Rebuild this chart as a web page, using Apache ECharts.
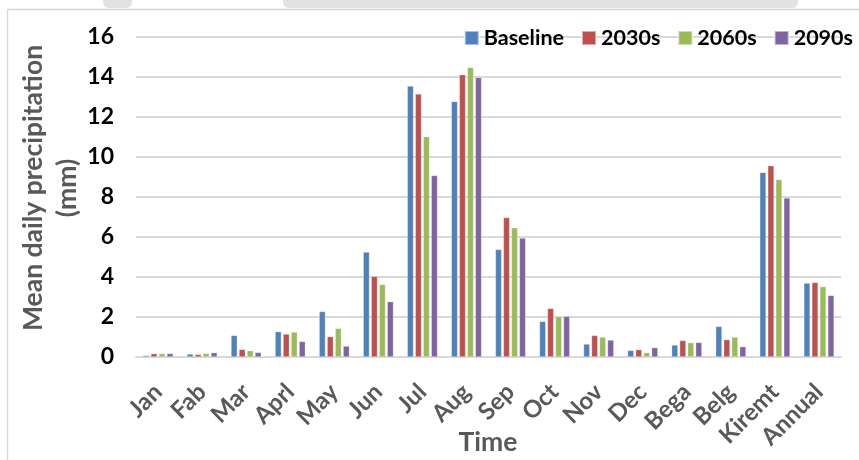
<!DOCTYPE html>
<html>
<head>
<meta charset="utf-8">
<script src="https://cdn.jsdelivr.net/npm/echarts@6/dist/echarts.min.js"></script>
<style>
html,body{margin:0;padding:0;background:#fff;}
#chart{width:859px;height:460px;}
</style>
</head>
<body>
<div id="chart"></div>
<script>
const categories = ['Jan','Fab','Mar','Aprl','May','Jun','Jul','Aug','Sep','Oct','Nov','Dec','Bega','Belg','Kiremt','Annual'];
const baseline = [0.08,0.15,1.08,1.27,2.28,5.25,13.55,12.78,5.38,1.78,0.65,0.33,0.60,1.53,9.23,3.70];
const s2030 = [0.17,0.13,0.38,1.15,1.02,4.03,13.15,14.12,6.98,2.43,1.08,0.37,0.83,0.87,9.57,3.73];
const s2060 = [0.17,0.18,0.32,1.25,1.43,3.63,11.02,14.48,6.47,2.02,1.00,0.22,0.72,1.00,8.88,3.52];
const s2090 = [0.18,0.22,0.23,0.78,0.55,2.77,9.08,13.98,5.95,2.03,0.85,0.47,0.73,0.52,7.95,3.08];
const yTicks = [0,2,4,6,8,10,12,14,16];

const FONT = 'Lato';
const chart = echarts.init(document.getElementById('chart'), null, {renderer:'canvas'});

function barSeries(name, data, color){
  return {
    name, type:'bar', data,
    barWidth: 6.3, barGap: '27%',
    itemStyle:{color, borderColor:'rgba(255,255,255,0.5)', borderWidth:0.6},
    emphasis:{disabled:true}
  };
}

chart.setOption({
  animation:false,
  backgroundColor:'#ffffff',
  grid:{left:136, right:18, top:37, bottom:103, containLabel:false},
  legend:{
    right:1, top:22, itemWidth:14, itemHeight:14, itemGap:17, itemTextGap:5, icon:'rect',
    textStyle:{fontFamily:FONT, fontWeight:'bold', fontSize:21.5, color:'#000'},
    data:['Baseline','2030s','2060s','2090s']
  },
  xAxis:{
    type:'category', data:categories,
    axisLine:{show:true, lineStyle:{color:'#d9d9d9', width:2}},
    axisTick:{show:false},
    axisLabel:{rotate:45, margin:31, interval:0, fontFamily:FONT, fontWeight:'bold', fontSize:24, color:'#595959'}
  },
  yAxis:{
    type:'value', min:yTicks[0], max:yTicks[yTicks.length-1], interval:2,
    axisLine:{show:false}, axisTick:{show:false},
    splitLine:{lineStyle:{color:'#d9d9d9', width:2}},
    axisLabel:{margin:22, fontFamily:FONT, fontWeight:'bold', fontSize:23, color:'#000'}
  },
  graphic:[
    {type:'rect', shape:{x:103,y:0,width:29,height:8,r:[0,0,6,6]}, style:{fill:'#e2e2e2'}, silent:true},
    {type:'rect', shape:{x:283,y:0,width:515,height:8,r:[0,0,6,6]}, style:{fill:'#e2e2e2'}, silent:true},
    {type:'line', shape:{x1:7,y1:9.5,x2:859,y2:9.5}, style:{stroke:'#d4d4d4', lineWidth:1.5}, silent:true},
    {type:'line', shape:{x1:7.5,y1:9,x2:7.5,y2:460}, style:{stroke:'#d9d9d9', lineWidth:1.5}, silent:true},
    {type:'text', x:50, y:188, rotation:Math.PI/2, silent:true,
     style:{text:'Mean daily precipitation\n(mm)', fontFamily:FONT, fontWeight:'bold', fontSize:26.5, lineHeight:34, fill:'#595959', align:'center', verticalAlign:'middle'}},
    {type:'text', x:488, y:442, silent:true,
     style:{text:'Time', fontFamily:FONT, fontWeight:'bold', fontSize:26.5, fill:'#595959', align:'center', verticalAlign:'middle'}}
  ],
  series:[
    barSeries('Baseline', baseline, '#4F81BD'),
    barSeries('2030s', s2030, '#C0504D'),
    barSeries('2060s', s2060, '#9BBB59'),
    barSeries('2090s', s2090, '#8064A2')
  ]
});
</script>
</body>
</html>
